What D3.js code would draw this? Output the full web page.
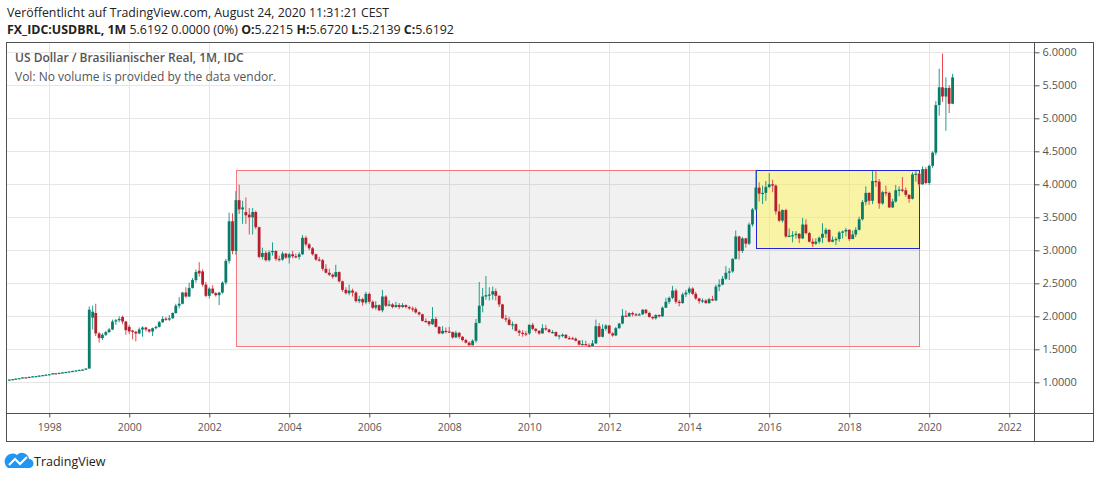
<!DOCTYPE html>
<html>
<head>
<meta charset="utf-8">
<script src="https://cdn.jsdelivr.net/npm/d3@7"></script>
<style>
    body { margin: 0; background: #fff; }
    text { font-family: "Open Sans", sans-serif; }
</style>
</head>
<body>
<div id="chart"></div>
<script>
// monthly candles, first one is Jan 1997
const firstYear = 1997

const opens = [
    1.039,1.041,1.048,1.056,1.063,1.075,1.070,1.083,1.090,1.095,1.102,1.109,
    1.116,1.123,1.137,1.133,1.143,1.150,1.157,1.164,1.172,1.180,1.188,1.193,
    1.209,1.980,2.050,1.740,1.670,1.720,1.760,1.800,1.920,1.940,1.990,1.920,
    1.840,1.785,1.765,1.740,1.800,1.830,1.800,1.770,1.820,1.840,1.910,1.965,
    1.950,1.970,2.050,2.160,2.190,2.360,2.300,2.430,2.550,2.690,2.680,2.480,
    2.310,2.420,2.350,2.320,2.360,2.510,2.840,3.440,2.990,3.760,3.620,3.580,
    3.540,3.500,3.580,3.350,2.900,2.960,2.850,2.970,2.990,2.870,2.860,2.950,
    2.890,2.940,2.910,2.900,2.940,3.190,3.090,3.030,2.940,2.860,2.850,2.720,
    2.660,2.630,2.600,2.670,2.530,2.400,2.350,2.390,2.360,2.230,2.260,2.210,
    2.340,2.220,2.130,2.170,2.090,2.300,2.160,2.180,2.140,2.170,2.140,2.170,
    2.140,2.120,2.110,2.060,2.030,1.930,1.925,1.880,1.960,1.840,1.740,1.780,
    1.770,1.760,1.680,1.750,1.690,1.640,1.600,1.560,1.630,1.900,2.160,2.300,
    2.320,2.330,2.380,2.310,2.180,1.970,1.950,1.870,1.880,1.780,1.750,1.740,
    1.740,1.870,1.810,1.780,1.740,1.820,1.800,1.760,1.762,1.700,1.710,1.720,
    1.670,1.668,1.660,1.630,1.570,1.580,1.560,1.550,1.590,1.850,1.690,1.810,
    1.860,1.740,1.710,1.820,1.890,2.010,2.000,2.050,2.030,2.025,2.030,2.100,
    2.050,1.990,1.970,2.020,2.000,2.130,2.220,2.280,2.390,2.220,2.200,2.330,
    2.360,2.420,2.340,2.270,2.230,2.240,2.200,2.260,2.240,2.450,2.480,2.570,
    2.660,2.680,2.870,3.210,2.990,3.180,3.100,3.390,3.620,3.950,3.860,3.870,
    3.960,4.000,3.980,3.590,3.450,3.610,3.210,3.220,3.230,3.250,3.180,3.390,
    3.260,3.130,3.100,3.130,3.190,3.250,3.310,3.130,3.160,3.170,3.270,3.285,
    3.310,3.170,3.240,3.310,3.470,3.730,3.870,3.750,4.050,4.040,3.710,3.880,
    3.870,3.650,3.740,3.910,3.920,3.910,3.840,3.780,4.150,4.160,4.000,4.230,
    4.020,4.280,4.480,5.200,5.470,5.330,5.460,5.2215
]

const highs = [
    1.044,1.050,1.058,1.065,1.077,1.078,1.085,1.092,1.098,1.106,1.112,1.118,
    1.125,1.139,1.140,1.146,1.153,1.160,1.167,1.175,1.184,1.190,1.196,1.212,
    2.150,2.160,2.190,1.760,1.745,1.780,1.825,1.950,1.960,2.000,2.010,1.930,
    1.870,1.795,1.780,1.830,1.850,1.840,1.810,1.830,1.860,1.930,2.000,1.990,
    2.020,2.060,2.190,2.290,2.370,2.440,2.510,2.580,2.710,2.820,2.710,2.520,
    2.440,2.470,2.370,2.370,2.530,2.870,3.570,3.560,3.900,3.995,3.750,3.800,
    3.640,3.640,3.600,3.360,3.040,2.990,3.000,3.120,3.000,2.920,2.980,2.960,
    2.960,2.990,2.950,2.970,3.230,3.220,3.110,3.050,2.950,2.900,2.870,2.790,
    2.720,2.650,2.780,2.680,2.540,2.440,2.480,2.420,2.380,2.310,2.280,2.370,
    2.360,2.240,2.230,2.180,2.400,2.320,2.240,2.200,2.220,2.200,2.200,2.180,
    2.160,2.150,2.140,2.070,2.040,1.970,1.930,2.140,1.990,1.850,1.850,1.830,
    1.840,1.770,1.780,1.760,1.700,1.660,1.620,1.650,1.960,2.520,2.430,2.610,
    2.440,2.450,2.420,2.320,2.190,2.020,1.990,1.920,1.890,1.800,1.790,1.780,
    1.880,1.900,1.820,1.790,1.880,1.870,1.810,1.790,1.770,1.720,1.740,1.730,
    1.700,1.690,1.680,1.640,1.640,1.630,1.590,1.640,1.950,1.900,1.880,1.880,
    1.870,1.760,1.840,1.900,2.110,2.090,2.060,2.070,2.050,2.050,2.110,2.110,
    2.070,2.000,2.030,2.030,2.150,2.280,2.300,2.460,2.420,2.250,2.360,2.400,
    2.450,2.440,2.370,2.280,2.270,2.260,2.280,2.310,2.480,2.560,2.610,2.760,
    2.730,2.880,3.300,3.220,3.200,3.190,3.420,3.640,4.220,4.030,3.980,4.050,
    4.170,4.070,4.000,3.700,3.620,3.630,3.330,3.290,3.290,3.260,3.490,3.470,
    3.280,3.180,3.180,3.210,3.410,3.340,3.320,3.210,3.200,3.290,3.300,3.340,
    3.320,3.300,3.350,3.510,3.760,3.970,3.880,4.200,4.210,4.080,3.900,3.980,
    3.890,3.780,3.990,3.970,4.110,3.950,3.850,4.180,4.200,4.180,4.270,4.260,
    4.300,4.500,5.260,5.750,5.980,5.620,5.500,5.6720
]

const lows = [
    1.036,1.039,1.046,1.054,1.061,1.066,1.068,1.080,1.087,1.093,1.100,1.107,
    1.114,1.121,1.129,1.131,1.141,1.148,1.155,1.162,1.170,1.178,1.185,1.191,
    1.205,1.800,1.700,1.600,1.640,1.700,1.750,1.790,1.870,1.910,1.880,1.720,
    1.730,1.650,1.620,1.730,1.690,1.770,1.750,1.700,1.800,1.830,1.900,1.930,
    1.930,1.960,2.040,2.120,2.180,2.280,2.290,2.420,2.510,2.600,2.450,2.290,
    2.270,2.340,2.300,2.170,2.340,2.480,2.800,2.940,2.930,3.550,3.400,3.400,
    3.240,3.240,3.320,2.880,2.860,2.830,2.830,2.920,2.840,2.830,2.840,2.870,
    2.800,2.880,2.880,2.860,2.930,3.060,3.000,2.920,2.840,2.830,2.690,2.650,
    2.610,2.570,2.590,2.510,2.370,2.330,2.320,2.300,2.210,2.200,2.160,2.180,
    2.190,2.110,2.100,2.080,2.060,2.140,2.150,2.120,2.130,2.110,2.130,2.120,
    2.100,2.070,2.040,2.010,1.920,1.900,1.850,1.870,1.830,1.730,1.730,1.740,
    1.750,1.660,1.670,1.660,1.620,1.590,1.560,1.560,1.600,1.890,2.060,2.250,
    2.240,2.250,2.240,2.140,1.960,1.910,1.860,1.800,1.770,1.700,1.690,1.700,
    1.720,1.790,1.750,1.720,1.740,1.780,1.750,1.740,1.690,1.650,1.680,1.660,
    1.650,1.650,1.620,1.560,1.560,1.560,1.530,1.540,1.580,1.680,1.680,1.780,
    1.740,1.690,1.700,1.810,1.880,1.990,1.990,2.000,2.010,2.010,2.020,2.030,
    1.980,1.950,1.950,1.980,1.990,2.130,2.190,2.260,2.190,2.150,2.190,2.290,
    2.330,2.320,2.250,2.190,2.200,2.190,2.190,2.230,2.230,2.380,2.470,2.550,
    2.550,2.660,2.860,2.860,2.960,3.040,3.080,3.360,3.600,3.740,3.700,3.750,
    3.940,3.880,3.540,3.430,3.420,3.190,3.200,3.120,3.180,3.110,3.170,3.240,
    3.120,3.050,3.080,3.100,3.110,3.190,3.120,3.120,3.080,3.130,3.180,3.210,
    3.140,3.170,3.200,3.300,3.450,3.680,3.690,3.700,3.960,3.630,3.690,3.820,
    3.640,3.640,3.720,3.820,3.880,3.810,3.720,3.770,4.040,3.960,3.990,4.000,
    3.990,4.250,4.440,5.040,5.250,4.810,5.080,5.2139
]

const closes = [
    1.041,1.048,1.056,1.063,1.075,1.070,1.083,1.090,1.095,1.102,1.109,1.116,
    1.123,1.137,1.133,1.143,1.150,1.157,1.164,1.172,1.180,1.188,1.193,1.209,
    2.100,2.070,1.740,1.670,1.720,1.760,1.800,1.920,1.940,1.960,1.920,1.790,
    1.770,1.765,1.740,1.800,1.830,1.800,1.770,1.820,1.840,1.910,1.960,1.950,
    1.970,2.050,2.160,2.190,2.360,2.300,2.430,2.550,2.670,2.650,2.480,2.310,
    2.420,2.350,2.320,2.360,2.510,2.840,3.440,2.990,3.760,3.620,3.650,3.530,
    3.500,3.580,3.350,2.900,2.960,2.850,2.970,2.990,2.870,2.860,2.950,2.890,
    2.940,2.910,2.900,2.940,3.190,3.090,3.030,2.940,2.860,2.850,2.720,2.660,
    2.630,2.600,2.670,2.530,2.400,2.350,2.390,2.360,2.230,2.260,2.210,2.340,
    2.220,2.130,2.170,2.090,2.300,2.160,2.180,2.140,2.170,2.140,2.170,2.140,
    2.120,2.110,2.060,2.030,1.930,1.925,1.880,1.960,1.840,1.740,1.780,1.770,
    1.760,1.680,1.750,1.690,1.640,1.600,1.560,1.630,1.900,2.160,2.300,2.320,
    2.330,2.380,2.310,2.180,1.970,1.950,1.870,1.880,1.780,1.750,1.740,1.735,
    1.870,1.810,1.780,1.740,1.820,1.800,1.760,1.762,1.700,1.710,1.720,1.670,
    1.668,1.660,1.630,1.570,1.580,1.560,1.550,1.590,1.850,1.690,1.810,1.860,
    1.740,1.710,1.820,1.890,2.010,2.000,2.050,2.030,2.025,2.030,2.100,2.050,
    1.990,1.970,2.020,2.000,2.130,2.220,2.280,2.390,2.220,2.200,2.330,2.360,
    2.420,2.340,2.270,2.230,2.240,2.200,2.260,2.240,2.450,2.480,2.570,2.660,
    2.680,2.870,3.210,2.990,3.180,3.100,3.390,3.620,3.950,3.860,3.870,3.960,
    4.000,3.980,3.590,3.450,3.610,3.210,3.220,3.230,3.250,3.180,3.390,3.260,
    3.130,3.100,3.130,3.190,3.250,3.310,3.130,3.160,3.170,3.270,3.285,3.310,
    3.170,3.240,3.310,3.470,3.730,3.870,3.750,4.050,4.040,3.710,3.880,3.870,
    3.650,3.740,3.910,3.920,3.910,3.840,3.780,4.150,4.160,4.000,4.230,4.020,
    4.280,4.480,5.200,5.470,5.330,5.460,5.220,5.6192
]

const yearTicks = [1998, 2000, 2002, 2004, 2006, 2008, 2010, 2012, 2014, 2016, 2018, 2020, 2022]
const priceTicks = [1.0, 1.5, 2.0, 2.5, 3.0, 3.5, 4.0, 4.5, 5.0, 5.5, 6.0]

// drawn rectangles: [year, month index] start/end and price top/bottom
const rangeStart = [2002, 8], rangeEnd = [2019, 9], rangeTop = 4.22, rangeBottom = 1.55
const boxStart = [2015, 8], boxEnd = [2019, 9], boxTop = 4.22, boxBottom = 3.035

const title = 'Veröffentlicht auf TradingView.com, August 24, 2020 11:31:21 CEST'
const symbolLine = [
    ['FX_IDC:USDBRL, 1M', true], [' 5.6192 0.0000 (0%) ', false],
    ['O:', true], ['5.2215 ', false], ['H:', true], ['5.6720 ', false],
    ['L:', true], ['5.2139 ', false], ['C:', true], ['5.6192', false]
]
const legendLines = ['US Dollar / Brasilianischer Real, 1M, IDC', 'Vol: No volume is provided by the data vendor.']

const upBody = '#0a7b66', upWick = '#1f9e8c'
const downBody = '#b3222c', downWick = '#ec4650'

let W = 1100, H = 478
let plot = { left: 7, right: 1034.5, top: 43, bottom: 413.5 }

let data = closes.map((c, i) => ({
    date: new Date(firstYear, i, 1),
    open: opens[i], high: highs[i], low: lows[i], close: c
}))

let svg = d3.select('#chart')
    .append('svg')
    .attr('width', W)
    .attr('height', H)
    .style('display', 'block')

let x = d3.scaleTime()
    .domain([new Date(1998, 0, 1), new Date(2022, 0, 1)])
    .range([49.3, 1009.3])

let y = d3.scaleLinear()
    .domain([1, 6])
    .range([382.3, 52.3])

// header
svg.append('text')
    .attr('x', 7).attr('y', 17)
    .attr('font-size', 12.3)
    .attr('fill', '#222')
    .text(title)

svg.append('text')
    .attr('x', 7).attr('y', 34)
    .attr('font-size', 12.4)
    .attr('fill', '#222')
    .selectAll('tspan')
    .data(symbolLine)
    .join('tspan')
    .attr('font-weight', d => d[1] ? 700 : 400)
    .style('white-space', 'pre')
    .text(d => d[0])

svg.append('defs').append('clipPath')
    .attr('id', 'plotclip')
    .append('rect')
    .attr('x', plot.left).attr('y', plot.top)
    .attr('width', plot.right - plot.left).attr('height', plot.bottom - plot.top)

let grid = svg.append('g').attr('clip-path', 'url(#plotclip)')

grid.selectAll('.vgrid')
    .data(yearTicks)
    .join('line')
    .attr('x1', d => Math.round(x(new Date(d, 0, 1))) + 0.5)
    .attr('x2', d => Math.round(x(new Date(d, 0, 1))) + 0.5)
    .attr('y1', plot.top).attr('y2', plot.bottom)
    .attr('stroke', '#e6e6e6')

grid.selectAll('.hgrid')
    .data(priceTicks)
    .join('line')
    .attr('x1', plot.left).attr('x2', plot.right)
    .attr('y1', d => Math.round(y(d)) + 0.5)
    .attr('y2', d => Math.round(y(d)) + 0.5)
    .attr('stroke', '#e6e6e6')

// drawings
let drawings = svg.append('g').attr('clip-path', 'url(#plotclip)')

drawings.append('rect')
    .attr('x', Math.round(x(new Date(...rangeStart, 1))) + 0.5)
    .attr('y', Math.round(y(rangeTop)) + 0.5)
    .attr('width', Math.round(x(new Date(...rangeEnd, 1))) - Math.round(x(new Date(...rangeStart, 1))))
    .attr('height', Math.round(y(rangeBottom)) - Math.round(y(rangeTop)))
    .attr('fill', 'rgba(120,120,120,0.1)')
    .attr('stroke', '#f47a7e')

drawings.append('rect')
    .attr('x', Math.round(x(new Date(...boxStart, 1))) + 0.5)
    .attr('y', Math.round(y(boxTop)) + 0.5)
    .attr('width', Math.round(x(new Date(...boxEnd, 1))) - Math.round(x(new Date(...boxStart, 1))))
    .attr('height', Math.round(y(boxBottom)) - Math.round(y(boxTop)))
    .attr('fill', 'rgba(255,246,90,0.5)')
    .attr('stroke', '#2424d6')

// candles
let bodyW = 2.8
let candles = svg.append('g')
    .attr('clip-path', 'url(#plotclip)')
    .selectAll('.candle')
    .data(data)
    .join('g')
    .attr('class', 'candle')

candles.append('line')
    .attr('x1', d => x(d.date))
    .attr('x2', d => x(d.date))
    .attr('y1', d => y(d.high))
    .attr('y2', d => y(d.low))
    .attr('stroke', d => d.close >= d.open ? upWick : downWick)
    .attr('stroke-width', 1)

candles.append('rect')
    .attr('x', d => x(d.date) - bodyW / 2)
    .attr('y', d => y(Math.max(d.open, d.close)))
    .attr('width', bodyW)
    .attr('height', d => Math.max(1.2, Math.abs(y(d.open) - y(d.close))))
    .attr('fill', d => d.close >= d.open ? upBody : downBody)

// legend
svg.selectAll('.legend')
    .data(legendLines)
    .join('text')
    .attr('x', 15)
    .attr('y', (d, i) => 62 + i * 19)
    .attr('font-size', 12)
    .attr('font-weight', (d, i) => i == 0 ? 600 : 400)
    .attr('fill', '#555')
    .text(d => d)

// price axis
let yAxis = svg.append('g')
    .attr('transform', `translate(${plot.right}, 0)`)
    .call(d3.axisRight(y)
        .tickValues(priceTicks)
        .tickFormat(d3.format('.4f'))
        .tickSize(5)
        .tickPadding(3))
yAxis.select('.domain').remove()
yAxis.selectAll('line').attr('stroke', '#555')
yAxis.selectAll('text')
    .attr('font-family', '"Open Sans", sans-serif')
    .attr('font-size', 11)
    .attr('fill', '#555')

// time axis
let xAxis = svg.append('g')
    .attr('transform', `translate(0, ${plot.bottom})`)
    .call(d3.axisBottom(x)
        .tickValues(yearTicks.map(d => new Date(d, 0, 1)))
        .tickFormat(d3.timeFormat('%Y'))
        .tickSize(4)
        .tickPadding(6))
xAxis.select('.domain').remove()
xAxis.selectAll('line').attr('stroke', '#555')
xAxis.selectAll('text')
    .attr('font-family', '"Open Sans", sans-serif')
    .attr('font-size', 10.5)
    .attr('fill', '#555')

// frame
let frame = svg.append('g').attr('fill', 'none').attr('stroke', '#505050')
frame.append('rect')
    .attr('x', 6.5).attr('y', 42.5)
    .attr('width', 1087).attr('height', 399)
frame.append('line')
    .attr('x1', plot.right).attr('x2', plot.right)
    .attr('y1', 42.5).attr('y2', 441.5)
frame.append('line')
    .attr('x1', 6.5).attr('x2', 1093.5)
    .attr('y1', plot.bottom).attr('y2', plot.bottom)

// logo
let logo = svg.append('g')
logo.append('path')
    .attr('d', 'M8,468 L29,468 A4.5,4.5 0 0 0 29,459 A7,7 0 0 0 17,455 A6,6 0 0 0 8,468 Z')
    .attr('fill', '#2196f3')
logo.append('path')
    .attr('d', 'M9,465 L15,459 L20,464 L27,457')
    .attr('fill', 'none')
    .attr('stroke', '#fff')
    .attr('stroke-width', 2)
logo.append('text')
    .attr('x', 34).attr('y', 466)
    .attr('font-size', 12.5)
    .attr('fill', '#222')
    .text('TradingView')
</script>
</body>
</html>
